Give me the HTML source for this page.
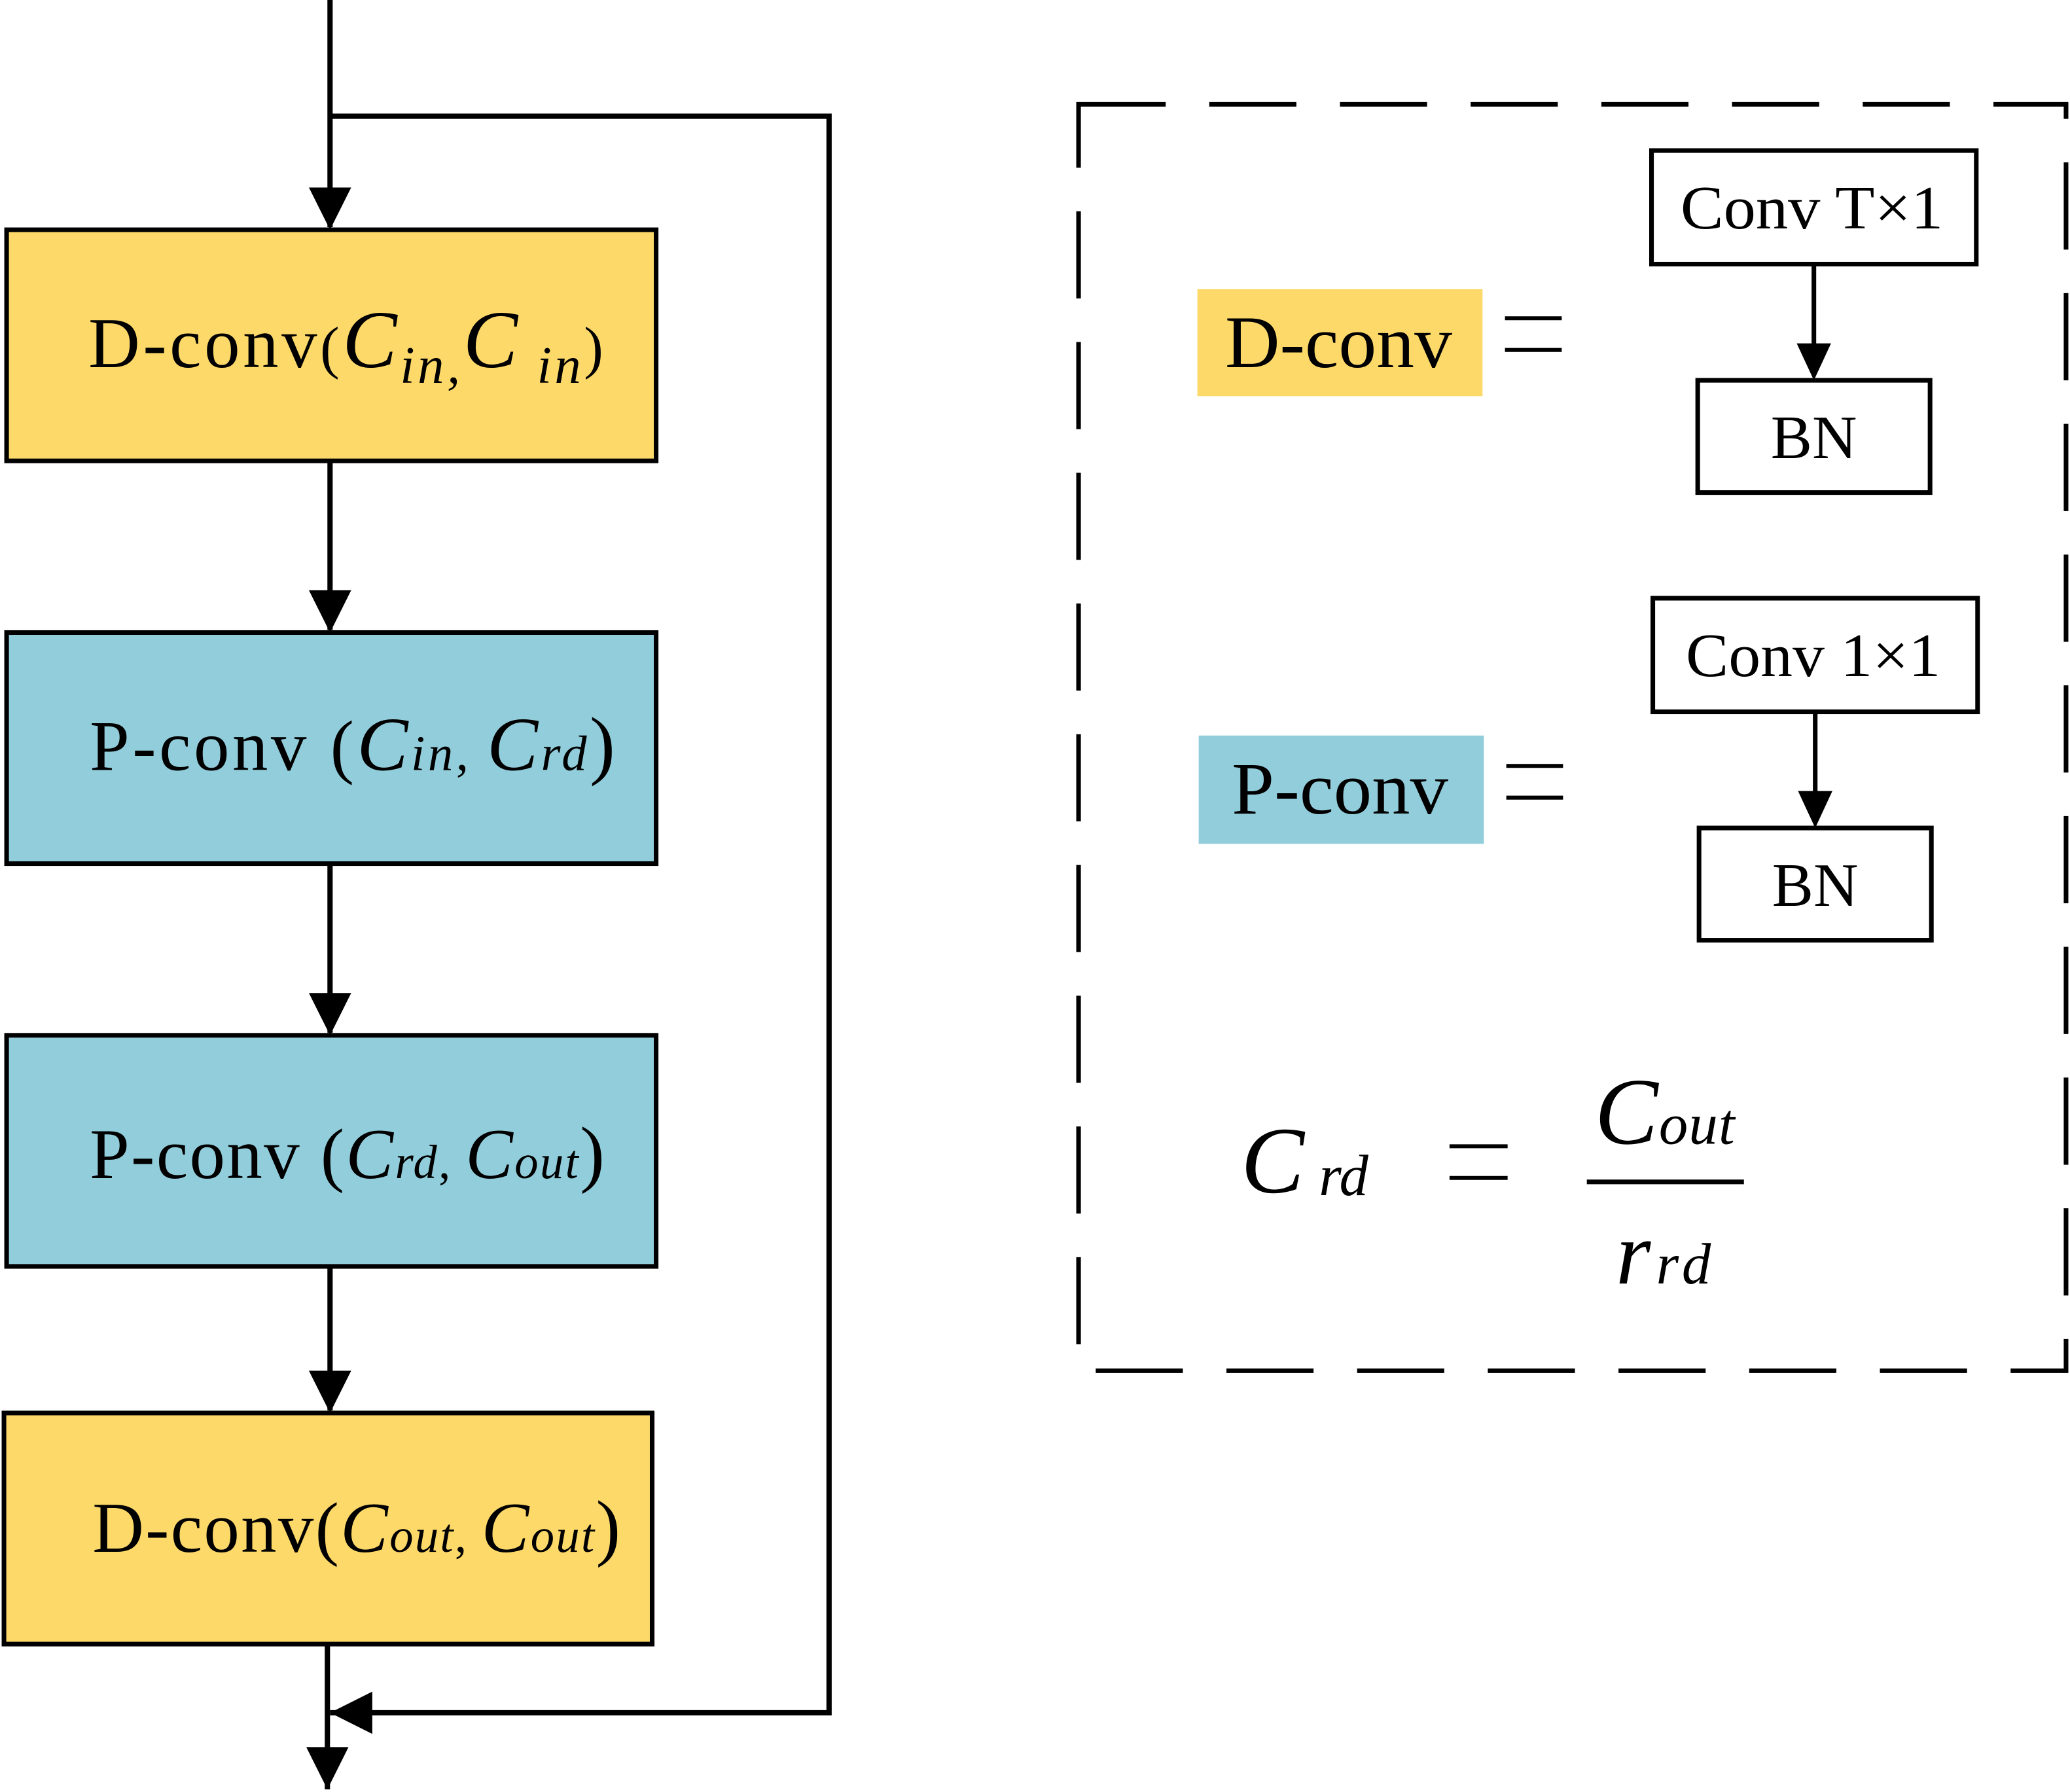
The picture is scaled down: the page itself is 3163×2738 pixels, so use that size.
<!DOCTYPE html>
<html><head><meta charset="utf-8"><style>
html,body{margin:0;padding:0;background:#fff;}
svg{display:block;}
text{font-family:"Liberation Serif",serif;fill:#000;}
</style></head><body>
<svg width="3163" height="2738" viewBox="0 0 1568 1357" preserveAspectRatio="none">
<g stroke="#000" stroke-width="4" fill="none">
<line x1="250" y1="0" x2="250" y2="172"/>
<polyline points="250,88 628,88 628,1297 250,1297"/>
<line x1="250" y1="349" x2="250" y2="477"/>
<line x1="250" y1="654" x2="250" y2="782"/>
<line x1="250" y1="959" x2="250" y2="1068"/>
<line x1="248" y1="1245" x2="248" y2="1355"/>
</g>
<g fill="#000">
<path d="M234,142 L266,142 L250,174 z"/>
<path d="M234,447 L266,447 L250,479 z"/>
<path d="M234,752 L266,752 L250,784 z"/>
<path d="M234,1038 L266,1038 L250,1070 z"/>
<path d="M232,1323 L264,1323 L248,1355 z"/>
<path d="M282,1281 L282,1313 L250,1297 z"/>
</g>
<rect x="5" y="174" width="492" height="175" fill="#FDD96A" stroke="#000" stroke-width="3.5"/>
<rect x="5" y="479" width="492" height="175" fill="#92CDDB" stroke="#000" stroke-width="3.5"/>
<rect x="5" y="784" width="492" height="175" fill="#92CDDB" stroke="#000" stroke-width="3.5"/>
<rect x="3" y="1070" width="491" height="175" fill="#FDD96A" stroke="#000" stroke-width="3.5"/>
<text x="67" y="278" font-size="54" textLength="390" lengthAdjust="spacing">D-conv<tspan font-size="44">(</tspan><tspan font-style="italic" font-size="62">C</tspan><tspan font-style="italic" font-size="40" dy="12">in,</tspan><tspan font-style="italic" font-size="62" dy="-12">C</tspan><tspan font-style="italic" font-size="40" dy="12"> in</tspan><tspan font-size="44" dy="-12">)</tspan></text>
<text x="68" y="583" font-size="54" textLength="398" lengthAdjust="spacing">P-conv (<tspan font-style="italic" font-size="58">C</tspan><tspan font-style="italic" font-size="38">in</tspan><tspan font-size="38">, </tspan><tspan font-style="italic" font-size="58">C</tspan><tspan font-style="italic" font-size="38">rd</tspan><tspan font-size="58">)</tspan></text>
<text x="68" y="892" font-size="54" textLength="390" lengthAdjust="spacing">P-conv (<tspan font-style="italic" font-size="54">C</tspan><tspan font-style="italic" font-size="36">rd</tspan><tspan font-size="36">, </tspan><tspan font-style="italic" font-size="54">C</tspan><tspan font-style="italic" font-size="36">out</tspan><tspan font-size="56">)</tspan></text>
<text x="70" y="1175" font-size="54" textLength="400" lengthAdjust="spacing">D-conv(<tspan font-style="italic" font-size="54">C</tspan><tspan font-style="italic" font-size="36">out</tspan><tspan font-size="36">, </tspan><tspan font-style="italic" font-size="54">C</tspan><tspan font-style="italic" font-size="36">out</tspan><tspan font-size="56">)</tspan></text>
<rect x="817" y="79" width="748" height="959" fill="none" stroke="#000" stroke-width="3.5" stroke-dasharray="66,33"/>
<rect x="907" y="219" width="216" height="81" fill="#FDD96A"/>
<text x="928" y="278" font-size="56" textLength="172" lengthAdjust="spacingAndGlyphs">D-conv</text>
<g stroke="#000" stroke-width="3"><line x1="1140" y1="241" x2="1183" y2="241"/><line x1="1140" y1="265" x2="1183" y2="265"/></g>
<rect x="1251" y="114" width="246" height="86" fill="#fff" stroke="#000" stroke-width="3.5"/>
<text x="1273" y="173" font-size="47" textLength="199" lengthAdjust="spacingAndGlyphs">Conv T×1</text>
<line x1="1374" y1="200" x2="1374" y2="262" stroke="#000" stroke-width="3.5"/>
<path d="M1361,260 L1387,260 L1374,288 z" fill="#000"/>
<rect x="1286" y="288" width="176" height="85" fill="#fff" stroke="#000" stroke-width="3.5"/>
<text x="1374" y="347" font-size="47" text-anchor="middle">BN</text>
<rect x="908" y="557" width="216" height="82" fill="#92CDDB"/>
<text x="933" y="616" font-size="56" textLength="164" lengthAdjust="spacingAndGlyphs">P-conv</text>
<g stroke="#000" stroke-width="3"><line x1="1141" y1="580" x2="1184" y2="580"/><line x1="1141" y1="604" x2="1184" y2="604"/></g>
<rect x="1252" y="453" width="246" height="86" fill="#fff" stroke="#000" stroke-width="3.5"/>
<text x="1277" y="512" font-size="47" textLength="193" lengthAdjust="spacingAndGlyphs">Conv 1×1</text>
<line x1="1375" y1="539" x2="1375" y2="601" stroke="#000" stroke-width="3.5"/>
<path d="M1362,599 L1388,599 L1375,627 z" fill="#000"/>
<rect x="1287" y="627" width="176" height="85" fill="#fff" stroke="#000" stroke-width="3.5"/>
<text x="1375" y="686" font-size="47" text-anchor="middle">BN</text>
<text x="940" y="903" font-size="72" font-style="italic">C<tspan font-size="44" dy="2"> rd</tspan></text>
<g stroke="#000" stroke-width="3"><line x1="1098" y1="868" x2="1142" y2="868"/><line x1="1098" y1="892" x2="1142" y2="892"/></g>
<text x="1208" y="866" font-size="72" font-style="italic" textLength="106" lengthAdjust="spacing">C<tspan font-size="44">out</tspan></text>
<line x1="1202" y1="895" x2="1321" y2="895" stroke="#000" stroke-width="3.5"/>
<text x="1224" y="972" font-size="68" font-style="italic" textLength="72" lengthAdjust="spacing">r<tspan font-size="44">rd</tspan></text>
</svg>
</body></html>
